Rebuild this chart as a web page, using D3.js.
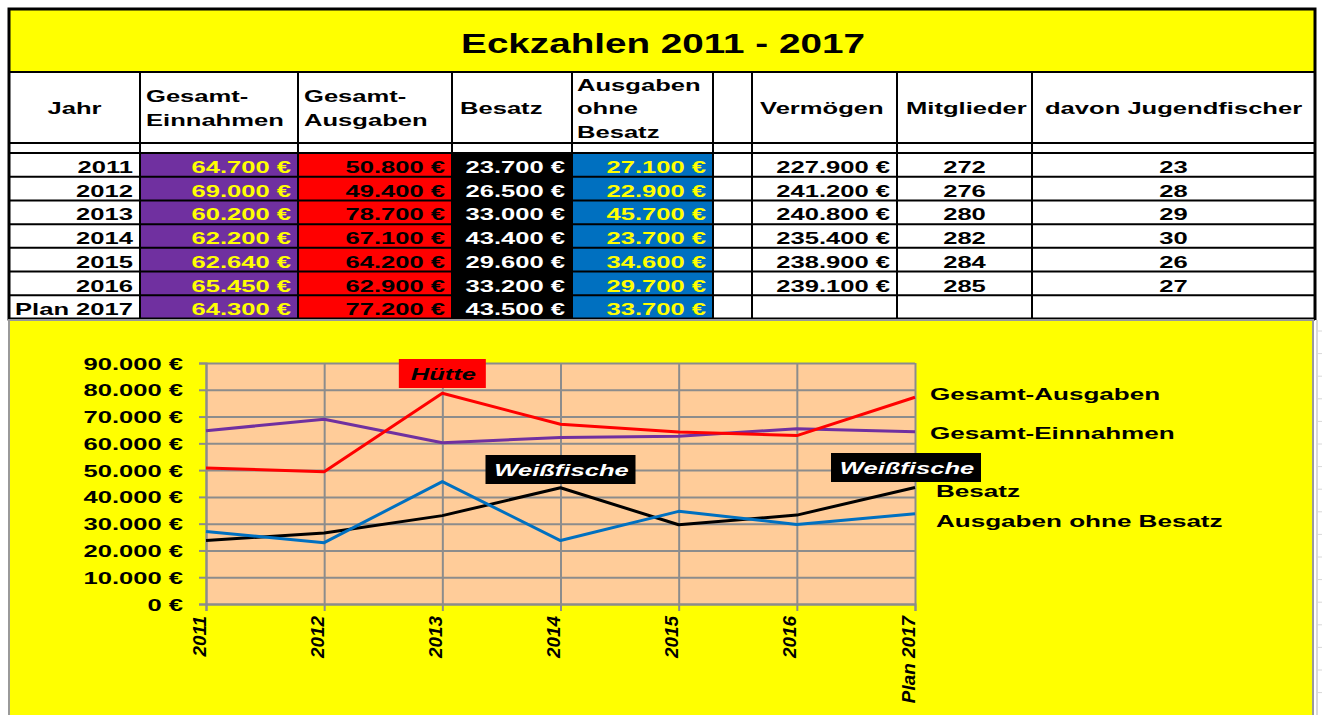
<!DOCTYPE html>
<html>
<head>
<meta charset="utf-8">
<script src="https://cdn.jsdelivr.net/npm/d3@7/dist/d3.min.js"></script>
<style>
body { margin: 0; background: #fff; }
text { font-family: "Liberation Sans", Arial, sans-serif; font-weight: bold; }
</style>
</head>
<body>
<div id="chart"></div>
<script>
// values from the sheet
var years = ["2011", "2012", "2013", "2014", "2015", "2016", "Plan 2017"];
var einnahmen = [64700, 69000, 60200, 62200, 62640, 65450, 64300];
var ausgaben = [50800, 49400, 78700, 67100, 64200, 62900, 77200];
var besatz = [23700, 26500, 33000, 43400, 29600, 33200, 43500];
var ohneBesatz = [27100, 22900, 45700, 23700, 34600, 29700, 33700];
var vermoegen = [227900, 241200, 240800, 235400, 238900, 239100, null];
var mitglieder = [272, 276, 280, 282, 284, 285, null];
var jugend = [23, 28, 29, 30, 26, 27, null];
var yTicks = [0, 10000, 20000, 30000, 40000, 50000, 60000, 70000, 80000, 90000];

var W = 1322, H = 715;
var de = d3.formatLocale({decimal: ",", thousands: ".", grouping: [3], currency: ["", " €"]});
var euro = de.format("$,.0f");

var svg = d3.select("#chart").append("svg")
    .attr("width", W)
    .attr("height", H);

// text helper, the sheet font is drawn quite wide
function label(g, x, y, s, o) {
    o = o || {};
    return g.append("text")
        .attr("transform", "translate(" + x + "," + y + ")" + (o.rot ? " rotate(" + o.rot + ")" : "") + " scale(" + (o.sx || 1.55) + ",1)")
        .attr("text-anchor", o.anchor || "start")
        .style("font-size", (o.size || 16.5) + "px")
        .style("font-style", o.italic ? "italic" : null)
        .style("fill", o.fill || "#000")
        .text(s);
}

// ---------- table ----------
var colX = [9, 140, 298, 452, 572, 713, 752, 897, 1032, 1315];
var table = svg.append("g").attr("class", "table");
var rows = d3.scaleBand().domain(years).range([153, 319]);

table.append("rect").attr("x", 9).attr("y", 9).attr("width", 1306).attr("height", 63).attr("fill", "#ffff00");
label(table, 663, 53, "Eckzahlen 2011 - 2017", {anchor: "middle", size: 28, sx: 1.38});

var columns = [
    {vals: years, fill: null, color: "#000", align: "end"},
    {vals: einnahmen.map(euro), fill: "#7030a0", color: "#ffff00", align: "end"},
    {vals: ausgaben.map(euro), fill: "#ff0000", color: "#000", align: "end"},
    {vals: besatz.map(euro), fill: "#000", color: "#fff", align: "end"},
    {vals: ohneBesatz.map(euro), fill: "#0070c0", color: "#ffff00", align: "end"},
    {vals: [], fill: null, color: "#000", align: "end"},
    {vals: vermoegen.map(function(v) { return v == null ? "" : euro(v); }), fill: null, color: "#000", align: "end"},
    {vals: mitglieder.map(function(v) { return v == null ? "" : v; }), fill: null, color: "#000", align: "middle"},
    {vals: jugend.map(function(v) { return v == null ? "" : v; }), fill: null, color: "#000", align: "middle"}
];

columns.forEach(function(c, i) {
    var x0 = colX[i], x1 = colX[i + 1];
    if (c.fill) {
        table.selectAll(".cell" + i).data(years).enter().append("rect")
            .attr("x", x0).attr("y", function(d) { return rows(d); })
            .attr("width", x1 - x0).attr("height", rows.bandwidth())
            .attr("fill", c.fill);
    }
    c.vals.forEach(function(v, j) {
        var tx = c.align == "end" ? x1 - 7 : (x0 + x1) / 2;
        label(table, tx, rows(years[j]) + 20, v, {anchor: c.align, fill: c.color});
    });
});

var headers = [
    {t: "Jahr", x: 74.5, y: 114, a: "middle"},
    {t: "Gesamt-", x: 146, y: 102}, {t: "Einnahmen", x: 146, y: 125.5},
    {t: "Gesamt-", x: 304, y: 102}, {t: "Ausgaben", x: 304, y: 125.5},
    {t: "Besatz", x: 460, y: 114},
    {t: "Ausgaben", x: 577, y: 90.5}, {t: "ohne", x: 577, y: 114}, {t: "Besatz", x: 577, y: 137.5},
    {t: "Vermögen", x: 760, y: 114},
    {t: "Mitglieder", x: 906, y: 114},
    {t: "davon Jugendfischer", x: 1045, y: 114}
];
headers.forEach(function(h) { label(table, h.x, h.y, h.t, {anchor: h.a}); });

var hLines = [72, 143, 153].concat(years.map(function(d) { return rows(d) + rows.bandwidth(); }));
table.selectAll(".hl").data(hLines).enter().append("line")
    .attr("x1", 9).attr("x2", 1315)
    .attr("y1", function(d) { return d; }).attr("y2", function(d) { return d; })
    .attr("stroke", "#000").attr("stroke-width", 2);
table.selectAll(".vl").data(colX.slice(1, -1)).enter().append("line")
    .attr("x1", function(d) { return d; }).attr("x2", function(d) { return d; })
    .attr("y1", 72).attr("y2", 319)
    .attr("stroke", "#000").attr("stroke-width", 2);
table.append("rect").attr("x", 9).attr("y", 9).attr("width", 1306).attr("height", 310)
    .attr("fill", "none").attr("stroke", "#000").attr("stroke-width", 3);

// ---------- chart ----------
var chart = svg.append("g").attr("class", "chart");
chart.append("rect").attr("x", 9).attr("y", 320).attr("width", 1304).attr("height", 400)
    .attr("fill", "#ffff00").attr("stroke", "#9a9a9a").attr("stroke-width", 2);
chart.append("rect").attr("x", 1315).attr("y", 320).attr("width", 7).attr("height", 400).attr("fill", "#fff");
chart.append("line").attr("x1", 1317).attr("x2", 1317).attr("y1", 320).attr("y2", H)
    .attr("stroke", "#d8d8d8").attr("stroke-width", 2);
chart.selectAll(".sheetTick").data(d3.range(331, H, 22.6)).enter().append("line")
    .attr("x1", 1317).attr("x2", 1322)
    .attr("y1", function(d) { return d; }).attr("y2", function(d) { return d; })
    .attr("stroke", "#d8d8d8");

var x = d3.scalePoint().domain(years).range([206, 915]);
var y = d3.scaleLinear().domain([0, 90000]).range([604, 363]);

chart.append("rect").attr("x", 206).attr("y", y(90000)).attr("width", 915 - 206).attr("height", y(0) - y(90000))
    .attr("fill", "#ffcc99");

var grid = "#8c8c8c";
chart.append("g")
    .attr("transform", "translate(206,0)")
    .call(d3.axisLeft(y).tickValues(yTicks).tickSize(-(915 - 206)).tickFormat(""))
    .call(function(g) {
        g.select(".domain").remove();
        g.selectAll("line").attr("stroke", grid).attr("stroke-width", 2);
    });
chart.append("g")
    .attr("transform", "translate(0," + y(0) + ")")
    .call(d3.axisBottom(x).tickSize(-(y(0) - y(90000))).tickFormat(""))
    .call(function(g) {
        g.select(".domain").remove();
        g.selectAll("line").attr("stroke", grid).attr("stroke-width", 2);
    });

var yAxis = chart.append("g")
    .attr("transform", "translate(206,0)")
    .call(d3.axisLeft(y).tickValues(yTicks).tickSize(7).tickFormat(euro));
yAxis.select(".domain").attr("stroke", grid).attr("stroke-width", 2);
yAxis.selectAll("line").attr("stroke", grid).attr("stroke-width", 2);
yAxis.selectAll("text")
    .attr("x", 0).attr("dy", null).attr("fill", "#000")
    .attr("transform", "translate(-23,6) scale(1.55,1)")
    .style("font-size", "16.5px");

var xAxis = chart.append("g")
    .attr("transform", "translate(0," + y(0) + ")")
    .call(d3.axisBottom(x).tickSize(7));
xAxis.select(".domain").attr("stroke", grid).attr("stroke-width", 2);
xAxis.selectAll("line").attr("stroke", grid).attr("stroke-width", 2);
xAxis.selectAll("text")
    .attr("x", 0).attr("y", 0).attr("dy", null).attr("fill", "#000")
    .attr("text-anchor", "end")
    .attr("transform", "translate(-1,12) rotate(-90) scale(1.05,1)")
    .style("font-size", "18px")
    .style("font-style", "italic");

var series = [
    {name: "Gesamt-Einnahmen", vals: einnahmen, color: "#7030a0", lx: 930, ly: 439},
    {name: "Gesamt-Ausgaben", vals: ausgaben, color: "#ff0000", lx: 930, ly: 400},
    {name: "Besatz", vals: besatz, color: "#000000", lx: 936, ly: 497},
    {name: "Ausgaben ohne Besatz", vals: ohneBesatz, color: "#0070c0", lx: 936, ly: 527}
];
var line = d3.line()
    .x(function(d, i) { return x(years[i]); })
    .y(function(d) { return y(d); });

series.forEach(function(s) {
    chart.append("path")
        .datum(s.vals)
        .attr("d", line)
        .attr("fill", "none")
        .attr("stroke", s.color)
        .attr("stroke-width", 3)
        .attr("stroke-linejoin", "round");
    label(chart, s.lx, s.ly, s.name, {sx: 1.58});
});

// notes written on the chart
var notes = [
    {t: "Hütte", cat: "2013", dx: 0, top: 359, w: 87, bg: "#ff0000", fg: "#000"},
    {t: "Weißfische", cat: "2014", dx: 0, top: 455, w: 150, bg: "#000", fg: "#fff"},
    {t: "Weißfische", cat: "Plan 2017", dx: -9, top: 453, w: 150, bg: "#000", fg: "#fff"}
];
notes.forEach(function(n) {
    var cx = x(n.cat) + n.dx;
    chart.append("rect")
        .attr("x", cx - n.w / 2).attr("y", n.top)
        .attr("width", n.w).attr("height", 29)
        .attr("fill", n.bg);
    label(chart, cx + 1, n.top + 21, n.t, {anchor: "middle", fill: n.fg, italic: true});
});
</script>
</body>
</html>
